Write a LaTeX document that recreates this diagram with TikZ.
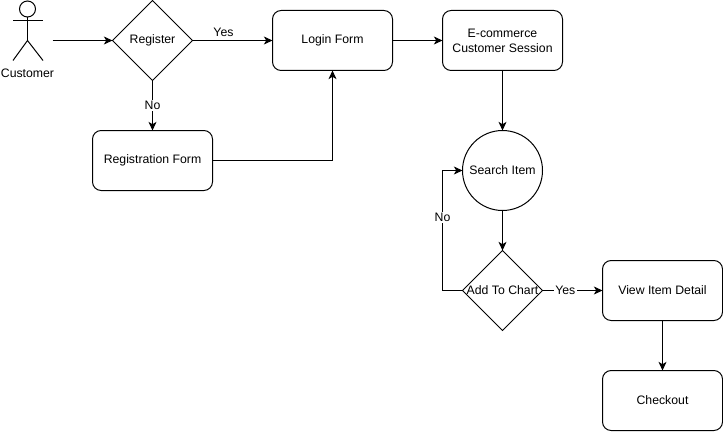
\documentclass[tikz,border=0pt]{standalone}
\usepackage{fontspec}
\setmainfont{Liberation Sans}
\usetikzlibrary{positioning, arrows.meta, shapes.geometric}
\tikzset{
    box/.style={rectangle, draw=black, rounded corners=6.5pt, minimum width=90pt, minimum height=45pt, inner sep=0pt, outer sep=0pt},
    decision/.style={diamond, draw=black, aspect=1, minimum width=60pt, minimum height=60pt, inner sep=0pt, outer sep=0pt},
    roundnode/.style={circle, draw=black, minimum size=60pt, inner sep=0pt, outer sep=0pt},
    flow/.style={draw=black, -{Stealth[length=6.5pt, width=6pt, inset=1.8pt]}},
    answer/.style={fill=white, inner sep=1pt},
}

\begin{document}
\begin{tikzpicture}[x=0.75pt, y=-0.75pt, line width=0.75pt, font=\fontsize{9.2}{11.2}\selectfont]
    \useasboundingbox (-0.5, -0.5) rectangle (722.5, 430.5);

    % actor
    \node[circle, draw=black, minimum size=12pt, inner sep=0pt, outer sep=0pt] (head) at (27, 8.5) {};
    \coordinate (neck) at (27, 40);
    \coordinate (armleft) at (12.5, 20);
    \coordinate (armright) at (42.5, 20);
    \coordinate (legleft) at (12.5, 60);
    \coordinate (legright) at (42.5, 60);
    \coordinate (actorout) at (52, 40);
    \node (customer) at (27, 73) {Customer};
    \draw (head) -- (neck);
    \draw (armleft) -- (armright);
    \draw (legleft) -- (neck) -- (legright);

    \node[decision, label={center:Register}] (register) at (152, 40) {};
    \node[box] (login) at (332, 40) {Login Form};
    \node[box, align=center] (session) at (502, 40) {E-commerce\\Customer Session};
    \node[box] (regform) at (152, 160) {Registration Form};
    \node[roundnode] (search) at (502, 170) {Search Item};
    \node[decision, label={center:Add To Chart}] (addchart) at (502, 290) {};
    \node[box] (detail) at (662, 290) {View Item Detail};
    \node[box] (checkout) at (662, 400) {Checkout};
    \coordinate (loopcorner) at (442, 290);

    \draw[flow] (actorout) -- (register);
    \draw[flow] (register) -- (login);
    \draw[flow] (register) -- node[answer] {No} (regform);
    \draw[flow] (regform) -| (login);
    \draw[flow] (login) -- (session);
    \draw[flow] (session) -- (search);
    \draw[flow] (search) -- (addchart);
    \draw[flow] (addchart) -- (loopcorner) |- node[answer, pos=0.304] {No} (search);
    \draw[flow] (addchart) -- node[answer, pos=0.38] {Yes} (detail);
    \draw[flow] (detail) -- (checkout);

    \node (yesreg) at (223, 32) {Yes};
\end{tikzpicture}
\end{document}
